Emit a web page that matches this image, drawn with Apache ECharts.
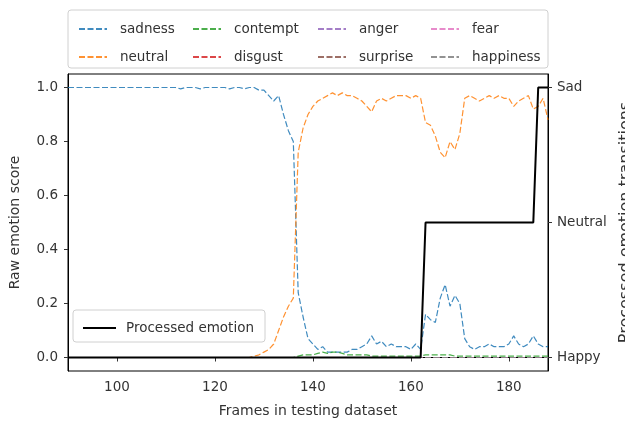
<!DOCTYPE html>
<html>
<head>
<meta charset="utf-8">
<script src="https://cdn.jsdelivr.net/npm/echarts@6/dist/echarts.min.js"></script>
<style>
html,body{margin:0;padding:0;background:#fff;}
#chart{width:625px;height:426px;}
</style>
</head>
<body>
<div id="chart"></div>
<script>
// Frames 90..188
var frameStart = 90;
var frameEnd = 188;

var sadness = [
  1.0,1.0,1.0,1.0,1.0,1.0,1.0,1.0,1.0,1.0,            // 90-99
  1.0,1.0,1.0,1.0,1.0,1.0,1.0,1.0,1.0,1.0,            // 100-109
  1.0,1.0,1.0,0.995,1.0,1.0,1.0,0.995,1.0,1.0,        // 110-119
  1.0,1.0,1.0,0.995,1.0,1.0,0.995,1.0,1.0,0.99,       // 120-129
  0.99,0.97,0.95,0.97,0.90,0.84,0.80,0.24,0.15,0.07,  // 130-139
  0.05,0.03,0.04,0.02,0.02,0.02,0.02,0.02,0.03,0.03,  // 140-149
  0.04,0.05,0.08,0.05,0.06,0.04,0.05,0.04,0.04,0.04,  // 150-159
  0.03,0.05,0.03,0.16,0.14,0.13,0.22,0.27,0.19,0.23,  // 160-169
  0.20,0.07,0.04,0.03,0.04,0.04,0.05,0.04,0.04,0.04,  // 170-179
  0.05,0.08,0.05,0.04,0.05,0.08,0.05,0.04,0.04        // 180-188
];
var neutral = [
  0,0,0,0,0,0,0,0,0,0,                                // 90-99
  0,0,0,0,0,0,0,0,0,0,                                // 100-109
  0,0,0,0,0,0,0,0,0,0,                                // 110-119
  0,0,0,0,0,0,0,0,0.005,0.01,                         // 120-129
  0.02,0.03,0.05,0.10,0.15,0.19,0.22,0.76,0.85,0.90,  // 130-139
  0.93,0.95,0.96,0.97,0.98,0.97,0.98,0.97,0.97,0.96,  // 140-149
  0.95,0.93,0.91,0.95,0.96,0.95,0.96,0.97,0.97,0.97,  // 150-159
  0.96,0.97,0.96,0.87,0.86,0.82,0.76,0.74,0.80,0.77,  // 160-169
  0.83,0.96,0.97,0.96,0.95,0.96,0.97,0.96,0.97,0.96,  // 170-179
  0.96,0.93,0.95,0.96,0.97,0.92,0.93,0.96,0.88        // 180-188
];
var contempt = [
  0,0,0,0,0,0,0,0,0,0, 0,0,0,0,0,0,0,0,0,0, 0,0,0,0,0,0,0,0,0,0,   // 90-119
  0,0,0,0,0,0,0,0,0,0,                                             // 120-129
  0,0,0,0,0,0,0,0.005,0.01,0.01,                                   // 130-139
  0.01,0.015,0.02,0.015,0.02,0.02,0.015,0.01,0.01,0.01,            // 140-149
  0.01,0.01,0.005,0.005,0.005,0.005,0.005,0.005,0.005,0.005,       // 150-159
  0.005,0.005,0.005,0.01,0.01,0.01,0.01,0.01,0.01,0.005,           // 160-169
  0.005,0.005,0.005,0.005,0.005,0.005,0.005,0.005,0.005,0.005,     // 170-179
  0.005,0.005,0.005,0.005,0.005,0.005,0.005,0.005,0.005            // 180-188
];
var disgust = [
  0,0,0,0,0,0,0,0,0,0, 0,0,0,0,0,0,0,0,0,0, 0,0,0,0,0,0,0,0,0,0,
  0,0,0,0,0,0,0,0,0,0, 0,0,0,0,0,0,0,0,0,0, 0,0,0,0,0,0,0,0,0,0,
  0,0,0,0,0,0,0,0,0,0, 0,0,0,0,0,0,0,0,0,0, 0,0,0,0,0,0,0,0,0,0,
  0,0,0,0,0,0,0,0,0
];
var anger = [
  0,0,0,0,0,0,0,0,0,0, 0,0,0,0,0,0,0,0,0,0, 0,0,0,0,0,0,0,0,0,0,
  0,0,0,0,0,0,0,0,0,0, 0,0,0,0,0,0,0,0,0,0, 0,0,0,0,0,0,0,0,0,0,
  0,0,0,0,0,0,0,0,0,0, 0,0,0,0,0,0,0,0,0,0, 0,0,0,0,0,0,0,0,0,0,
  0,0,0,0,0,0,0,0,0
];
var surprise = [
  0,0,0,0,0,0,0,0,0,0, 0,0,0,0,0,0,0,0,0,0, 0,0,0,0,0,0,0,0,0,0,
  0,0,0,0,0,0,0,0,0,0, 0,0,0,0,0,0,0,0,0,0, 0,0,0,0,0,0,0,0,0,0,
  0,0,0,0,0,0,0,0,0,0, 0,0,0,0,0,0,0,0,0,0, 0,0,0,0,0,0,0,0,0,0,
  0,0,0,0,0,0,0,0,0
];
var fear = [
  0,0,0,0,0,0,0,0,0,0, 0,0,0,0,0,0,0,0,0,0, 0,0,0,0,0,0,0,0,0,0,
  0,0,0,0,0,0,0,0,0,0, 0,0,0,0,0,0,0,0,0,0, 0,0,0,0,0,0,0,0,0,0,
  0,0,0,0,0,0,0,0,0,0, 0,0,0,0,0,0,0,0,0,0, 0,0,0,0,0,0,0,0,0,0,
  0,0,0,0,0,0,0,0,0
];
var happiness = [
  0,0,0,0,0,0,0,0,0,0, 0,0,0,0,0,0,0,0,0,0, 0,0,0,0,0,0,0,0,0,0,
  0,0,0,0,0,0,0,0,0,0, 0,0,0,0,0,0,0,0,0,0, 0,0,0,0,0,0,0,0,0,0,
  0,0,0,0,0,0,0,0,0,0, 0,0,0,0,0,0,0,0,0,0, 0,0,0,0,0,0,0,0,0,0,
  0,0,0,0,0,0,0,0,0
];
// Processed emotion: 0 = Happy, 0.5 = Neutral, 1 = Sad
var processed = [
  0,0,0,0,0,0,0,0,0,0,                                // 90-99
  0,0,0,0,0,0,0,0,0,0,                                // 100-109
  0,0,0,0,0,0,0,0,0,0,                                // 110-119
  0,0,0,0,0,0,0,0,0,0,                                // 120-129
  0,0,0,0,0,0,0,0,0,0,                                // 130-139
  0,0,0,0,0,0,0,0,0,0,                                // 140-149
  0,0,0,0,0,0,0,0,0,0,                                // 150-159
  0,0,0,0.5,0.5,0.5,0.5,0.5,0.5,0.5,                  // 160-169
  0.5,0.5,0.5,0.5,0.5,0.5,0.5,0.5,0.5,0.5,            // 170-179
  0.5,0.5,0.5,0.5,0.5,0.5,1,1,1                       // 180-188
];

var emotionNames = ['sadness','neutral','contempt','disgust','anger','surprise','fear','happiness'];
var emotionValues = [sadness, neutral, contempt, disgust, anger, surprise, fear, happiness];
var emotionColors = ['#1f77b4','#ff7f0e','#2ca02c','#d62728','#9467bd','#8c564b','#e377c2','#7f7f7f'];

var xTicks = [100,120,140,160,180];
var leftTicks = [0,0.2,0.4,0.6,0.8,1.0];
var rightTicks = [0,0.5,1];
var rightLabels = {'0':'Happy','0.5':'Neutral','1':'Sad'};

function pairs(arr){
  var out = [];
  for (var i = 0; i < arr.length; i++) out.push([frameStart + i, arr[i]]);
  return out;
}

var FONT = 'DejaVu Sans';
var series = [];
for (var k = 0; k < emotionNames.length; k++) {
  series.push({
    name: emotionNames[k],
    type: 'line',
    yAxisIndex: 0,
    data: pairs(emotionValues[k]),
    showSymbol: false,
    symbol: 'none',
    color: emotionColors[k],
    lineStyle: {width: 1.2, type: [6, 2.5], color: emotionColors[k], opacity: 0.85},
    z: 2,
    silent: true
  });
}
series.push({
  name: 'Processed emotion',
  type: 'line',
  yAxisIndex: 1,
  data: pairs(processed),
  showSymbol: false,
  symbol: 'none',
  color: '#000',
  lineStyle: {width: 2, color: '#000'},
  z: 3,
  silent: true
});

function colLegend(left, names){
  return {
    orient: 'vertical',
    left: left, top: 17,
    itemWidth: 28, itemHeight: 14, itemGap: 14,
    itemStyle: {opacity: 0},
    data: names,
    selectedMode: false,
    textStyle: {fontFamily: FONT, fontSize: 13.5, color: '#333', padding: [0,0,0,8]}
  };
}

var chart = echarts.init(document.getElementById('chart'), null, {renderer: 'canvas'});
chart.setOption({
  animation: false,
  backgroundColor: '#fff',
  grid: {left: 68, right: 77, top: 74, bottom: 55, outerBoundsMode: 'none', containLabel: false,
         show: true, borderColor: '#000', borderWidth: 1},
  legend: [
    {
      orient: 'vertical', left: 77, top: 316,
      itemWidth: 33, itemHeight: 14,
      itemStyle: {opacity: 0},
      data: ['Processed emotion'],
      selectedMode: false,
      textStyle: {fontFamily: FONT, fontSize: 13.5, color: '#333', padding: [0,0,0,5]}
    },
    colLegend(73, ['sadness','neutral']),
    colLegend(187, ['contempt','disgust']),
    colLegend(312, ['anger','surprise']),
    colLegend(425, ['fear','happiness'])
  ],
  graphic: [
    {type: 'rect', z: -1, shape: {x: 68, y: 10, width: 480, height: 58, r: 3},
     style: {fill: '#fff', stroke: '#d0d0d0', lineWidth: 1}},
    {type: 'rect', z: 1, shape: {x: 73, y: 310, width: 192, height: 32, r: 3},
     style: {fill: 'rgba(255,255,255,0.85)', stroke: '#d0d0d0', lineWidth: 1}}
  ],
  xAxis: {
    type: 'value', min: 90, max: 188,
    name: 'Frames in testing dataset', nameLocation: 'middle', nameGap: 33,
    nameTextStyle: {fontFamily: FONT, fontSize: 14, color: '#333'},
    axisLine: {show: true, lineStyle: {color: '#000'}},
    axisTick: {show: true, length: 4, customValues: xTicks, lineStyle: {color: '#333'}},
    axisLabel: {customValues: xTicks, margin: 9, fontFamily: FONT, fontSize: 13.5, color: '#333'},
    splitLine: {show: false}
  },
  yAxis: [
    {
      type: 'value', min: -0.05, max: 1.05, position: 'left',
      name: 'Raw emotion score', nameLocation: 'middle', nameGap: 46,
      nameTextStyle: {fontFamily: FONT, fontSize: 14, color: '#333'},
      axisLine: {show: true, lineStyle: {color: '#000'}},
      axisTick: {show: true, length: 4, customValues: leftTicks, lineStyle: {color: '#333'}},
      axisLabel: {customValues: leftTicks, margin: 10, fontFamily: FONT, fontSize: 13.5, color: '#333',
        formatter: function(v){ return v.toFixed(1); }},
      splitLine: {show: false}
    },
    {
      type: 'value', min: -0.05, max: 1.05, position: 'right',
      name: 'Processed emotion transitions', nameLocation: 'middle', nameGap: 63,
      nameTextStyle: {fontFamily: FONT, fontSize: 16, color: '#333'},
      axisLine: {show: true, lineStyle: {color: '#000'}},
      axisTick: {show: true, length: 4, customValues: rightTicks, lineStyle: {color: '#333'}},
      axisLabel: {customValues: rightTicks, margin: 9, fontFamily: FONT, fontSize: 13.5, color: '#333',
        formatter: function(v){ return rightLabels[String(v)]; }},
      splitLine: {show: false}
    }
  ],
  series: series
});
</script>
</body>
</html>
